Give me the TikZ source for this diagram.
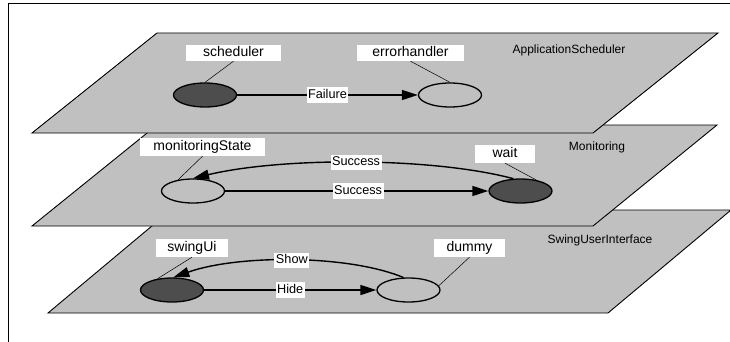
\documentclass[tikz,border=0pt]{standalone}
\usepackage{fontspec}
\setmainfont{Liberation Sans}
\usetikzlibrary{arrows.meta,shapes.geometric}

\definecolor{planegray}{HTML}{C0C0C0}
\definecolor{statedark}{HTML}{4D4D4D}

\tikzset{
  plane/.style={fill=planegray, draw=black, line width=0.9pt, line join=miter},
  state/.style={ellipse, draw=black, line width=1.3pt, minimum width=63pt,
    minimum height=24pt, inner sep=0pt},
  active/.style={state, fill=statedark},
  idle/.style={state},
  namebox/.style={fill=white, inner sep=0pt, font=\fontsize{14}{16}\selectfont,
    text height=10.5pt, text depth=3pt},
  edgelabel/.style={fill=white, inner sep=1.5pt, font=\fontsize{12.7}{15}\selectfont,
    text height=9.5pt, text depth=2.8pt},
  layername/.style={font=\fontsize{12}{14}\selectfont, inner sep=0pt},
  leader/.style={draw=black, line width=0.5pt},
  trans/.style={draw=black, line width=1.4pt,
    -{Triangle[length=16pt, width=10pt]}}
}

\begin{document}
\begin{tikzpicture}[x=1pt, y=-1pt]
  \useasboundingbox (0,0) rectangle (730,342);
  \clip (0,0) rectangle (730,342);
  \fill[white] (0,0) rectangle (730,342);

  % outer frame
  \draw[line width=1pt] (8.3,3.3) rectangle (760,380);

  % ---------- SwingUserInterface layer ----------
  \draw[plane] (48,313) -- (171,210) -- (731,210) -- (608,313) -- cycle;
  \node[layername] (lsui) at (600,240) {SwingUserInterface};
  \node[active] (swingUi) at (172,290) {};
  \node[idle]   (dummy)   at (408.5,290) {};
  \node[namebox, minimum width=72pt, minimum height=18pt] (swingUiL) at (192,248) {swingUi};
  \node[namebox, minimum width=71pt, minimum height=18pt] (dummyL) at (469.5,248) {dummy};
  \draw[leader] (swingUiL.south) -- (swingUi.142);
  \draw[leader] (dummyL.south) -- (dummy.8);
  \draw[trans] (swingUi.east) -- node[edgelabel] (hideL) {Hide} (dummy.west);
  \draw[trans] (dummy.112) .. controls (348,254.5) and (238,254.5) ..
    node[edgelabel, pos=0.5] (showL) {Show} (swingUi.84);

  % ---------- Monitoring layer ----------
  \draw[plane] (32,226) -- (157,125) -- (717,125) -- (593,226) -- cycle;
  \node[layername] (lmon) at (597,147) {Monitoring};
  \node[idle]   (monitoringState) at (193,191) {};
  \node[active] (wait) at (520.5,191) {};
  \node[namebox, minimum width=125pt, minimum height=18pt] (monL) at (202.5,147) {monitoringState};
  \node[namebox, minimum width=60pt, minimum height=18pt] (waitL) at (505,154) {wait};
  \draw[leader] (monL.south) -- (monitoringState.143);
  \draw[leader] (waitL.south) -- (wait.35);
  \draw[trans] (monitoringState.east) -- node[edgelabel, pos=0.505] (succ1) {Success} (wait.west);
  \draw[trans] (wait.120) .. controls (432,157) and (282,157) ..
    node[edgelabel, pos=0.5] (succ2) {Success} (monitoringState.north);

  % ---------- ApplicationScheduler layer ----------
  \draw[plane] (32,133) -- (157,33) -- (718,33) -- (593,133) -- cycle;
  \node[layername] (lapp) at (569,50) {ApplicationScheduler};
  \node[active] (scheduler) at (205,95) {};
  \node[idle]   (errorhandler) at (450,95) {};
  \node[namebox, minimum width=95pt, minimum height=16pt] (schedL) at (233.5,53) {scheduler};
  \node[namebox, minimum width=107pt, minimum height=16pt] (errL) at (410.5,53) {errorhandler};
  \draw[leader] (schedL.south) -- (scheduler.north);
  \draw[leader] (errL.south) -- (errorhandler.north);
  \draw[trans] (scheduler.east) -- node[edgelabel, pos=0.5] (failL) {Failure} (errorhandler.west);
\end{tikzpicture}
\end{document}
